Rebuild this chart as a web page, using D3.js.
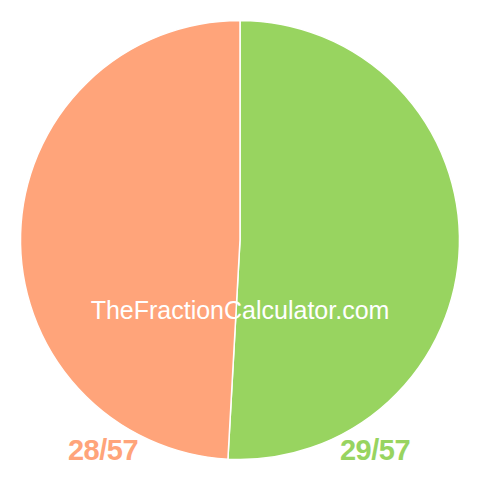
<!DOCTYPE html>
<html>
<head>
<meta charset="utf-8">
<script src="https://cdn.jsdelivr.net/npm/d3@7"></script>
<style>
  body { margin: 0; background: #fff; }
  svg { display: block; }
</style>
</head>
<body>
<svg id="chart" width="480" height="480"></svg>
<script>
// slice data, in drawing order (clockwise from 12 o'clock)
const labels = ["29/57", "28/57"];
const values = [29, 28];
const colors = ["#98d460", "#ffa47a"];

const width = 480, height = 480, radius = 219.5;
const svg = d3.select("#chart");

const pie = d3.pie().sort(null).value(d => d.value);
const arc = d3.arc().innerRadius(0).outerRadius(radius);

const slices = labels.map((l, i) => ({ label: l, value: values[i], color: colors[i] }));

const g = svg.append("g").attr("transform", `translate(${width / 2},${240})`);

g.selectAll("path")
  .data(pie(slices))
  .join("path")
    .attr("d", arc)
    .attr("fill", d => d.data.color)
    .attr("stroke", "#fff")
    .attr("stroke-width", 1.5);

// watermark
svg.append("text")
  .attr("x", 240)
  .attr("y", 319)
  .attr("text-anchor", "middle")
  .attr("fill", "#fff")
  .style("font-family", "Liberation Sans, Arial, sans-serif")
  .style("font-size", "25px")
  .text("TheFractionCalculator.com");

// fraction labels under the pie
const labelX = d3.scaleOrdinal().domain(labels).range([375, 103]);
svg.selectAll("text.frac")
  .data(slices)
  .join("text")
    .attr("class", "frac")
    .attr("x", d => labelX(d.label))
    .attr("y", 460)
    .attr("text-anchor", "middle")
    .attr("fill", d => d.color)
    .style("font-family", "Liberation Sans, Arial, sans-serif")
    .style("font-weight", "bold")
    .style("font-size", "29px")
    .style("letter-spacing", "-0.5px")
    .text(d => d.label);
</script>
</body>
</html>
